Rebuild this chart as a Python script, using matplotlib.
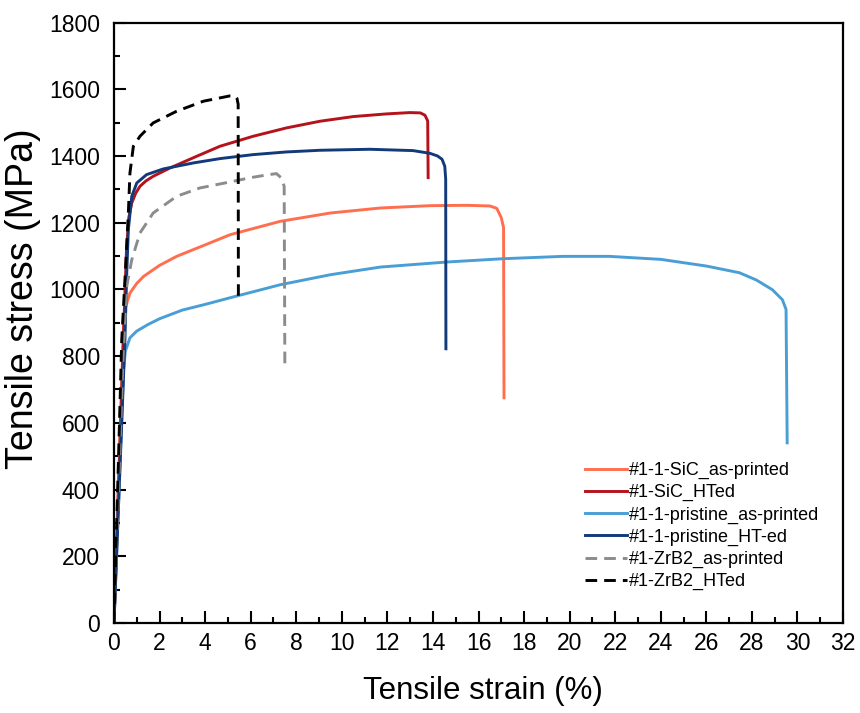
import matplotlib
matplotlib.use('Agg')
import matplotlib.pyplot as plt
from matplotlib.ticker import MultipleLocator

plt.rcParams['font.family'] = ['Liberation Sans', 'DejaVu Sans']

# strain (%) and stress (MPa)
sic_ap_x = [0, 0.42, 0.5, 0.7, 1.0, 1.3, 2.0, 2.75, 4.2, 5.1, 7.3, 9.5, 11.7, 13.9, 15.5, 16.5, 16.8, 17.0, 17.1, 17.12]
sic_ap_y = [0, 890, 945, 989, 1018, 1039, 1072, 1099, 1139, 1164, 1204, 1229, 1244, 1251, 1252, 1250, 1243, 1215, 1185, 675]

sic_ht_x = [0, 0.45, 0.55, 0.65, 0.78, 0.95, 1.14, 1.4, 1.72, 2.46, 3.63, 4.65, 6.11, 7.57, 9.04, 10.5, 11.96, 13.0, 13.45, 13.65, 13.77, 13.79]
sic_ht_y = [0, 930, 1120, 1215, 1259, 1288, 1309, 1325, 1339, 1364, 1399, 1429, 1459, 1484, 1504, 1518, 1526, 1530, 1529, 1522, 1505, 1335]

pri_ap_x = [0, 0.42, 0.5, 0.7, 1.0, 1.5, 2.0, 3.0, 4.0, 5.1, 7.3, 9.5, 11.7, 14.6, 17.1, 19.7, 21.75, 24.0, 26.0, 27.45, 28.2, 28.9, 29.34, 29.5, 29.55]
pri_ap_y = [0, 760, 815, 855, 875, 895, 912, 938, 955, 975, 1014, 1044, 1067, 1082, 1092, 1099, 1099, 1090, 1070, 1050, 1028, 999, 969, 940, 540]

pri_ht_x = [0, 0.48, 0.56, 0.63, 0.78, 1.0, 1.43, 2.16, 3.48, 4.65, 6.11, 7.57, 9.04, 11.23, 13.13, 13.86, 14.2, 14.4, 14.52, 14.56, 14.57]
pri_ht_y = [0, 849, 1050, 1179, 1279, 1319, 1344, 1361, 1379, 1392, 1404, 1412, 1417, 1420, 1416, 1408, 1400, 1390, 1369, 1330, 822]

zrb_ap_x = [0, 0.4, 0.56, 0.78, 1.14, 1.72, 2.75, 3.77, 5.09, 6.0, 6.8, 7.13, 7.35, 7.47, 7.5]
zrb_ap_y = [0, 800, 1009, 1089, 1169, 1229, 1279, 1304, 1322, 1335, 1344, 1347, 1334, 1309, 768]

zrb_ht_x = [0, 0.34, 0.48, 0.63, 0.7, 0.85, 1.14, 1.72, 2.75, 3.92, 5.09, 5.3, 5.4, 5.45, 5.46]
zrb_ht_y = [0, 849, 1029, 1229, 1349, 1429, 1459, 1499, 1534, 1564, 1580, 1580, 1572, 1555, 981]

labels = ['#1-1-SiC_as-printed', '#1-SiC_HTed', '#1-1-pristine_as-printed',
          '#1-1-pristine_HT-ed', '#1-ZrB2_as-printed', '#1-ZrB2_HTed']

fig = plt.figure(figsize=(8.6, 7.13), dpi=100)
ax = fig.add_axes([114/860, 1-623/713, (843-114)/860, (623-22.5)/713])

lw = 2.1
ax.plot(sic_ap_x, sic_ap_y, color='#ff6f4f', lw=lw, label=labels[0])
ax.plot(sic_ht_x, sic_ht_y, color='#b5121b', lw=lw, label=labels[1])
ax.plot(pri_ap_x, pri_ap_y, color='#4a9ed6', lw=lw, label=labels[2])
ax.plot(pri_ht_x, pri_ht_y, color='#12397a', lw=lw, label=labels[3])
ax.plot(zrb_ap_x, zrb_ap_y, color='#8c8c8c', lw=lw, ls=(0, (4, 2.4)), label=labels[4])
ax.plot(zrb_ht_x, zrb_ht_y, color='black', lw=lw, ls=(0, (4, 2.4)), label=labels[5])

ax.set_xlim(0, 32)
ax.set_ylim(0, 1800)
ax.xaxis.set_major_locator(MultipleLocator(2))
ax.xaxis.set_minor_locator(MultipleLocator(1))
ax.yaxis.set_major_locator(MultipleLocator(200))
ax.yaxis.set_minor_locator(MultipleLocator(100))
ax.tick_params(which='both', direction='in', top=False, right=False, width=1.5, labelsize=16.5)
ax.tick_params(which='major', length=8.5)
ax.tick_params(which='minor', length=4.3)
ax.tick_params(axis='x', pad=6.5)
ax.tick_params(axis='y', pad=10)
for s in ax.spines.values():
    s.set_linewidth(1.6)

ax.set_xlabel('Tensile strain (%)', fontsize=22.5)
ax.set_ylabel('Tensile stress (MPa)', fontsize=27)
ax.xaxis.set_label_coords(0.5055, -0.088)
ax.yaxis.set_label_coords(-0.1, 0.54)

ax.legend(loc='upper left', bbox_to_anchor=(585/860, 1-462/713), bbox_transform=fig.transFigure,
          frameon=False, fontsize=13, handlelength=2.3, handletextpad=0.15,
          labelspacing=0.28, borderpad=0, borderaxespad=0)

fig.savefig('out.png', dpi=100)
